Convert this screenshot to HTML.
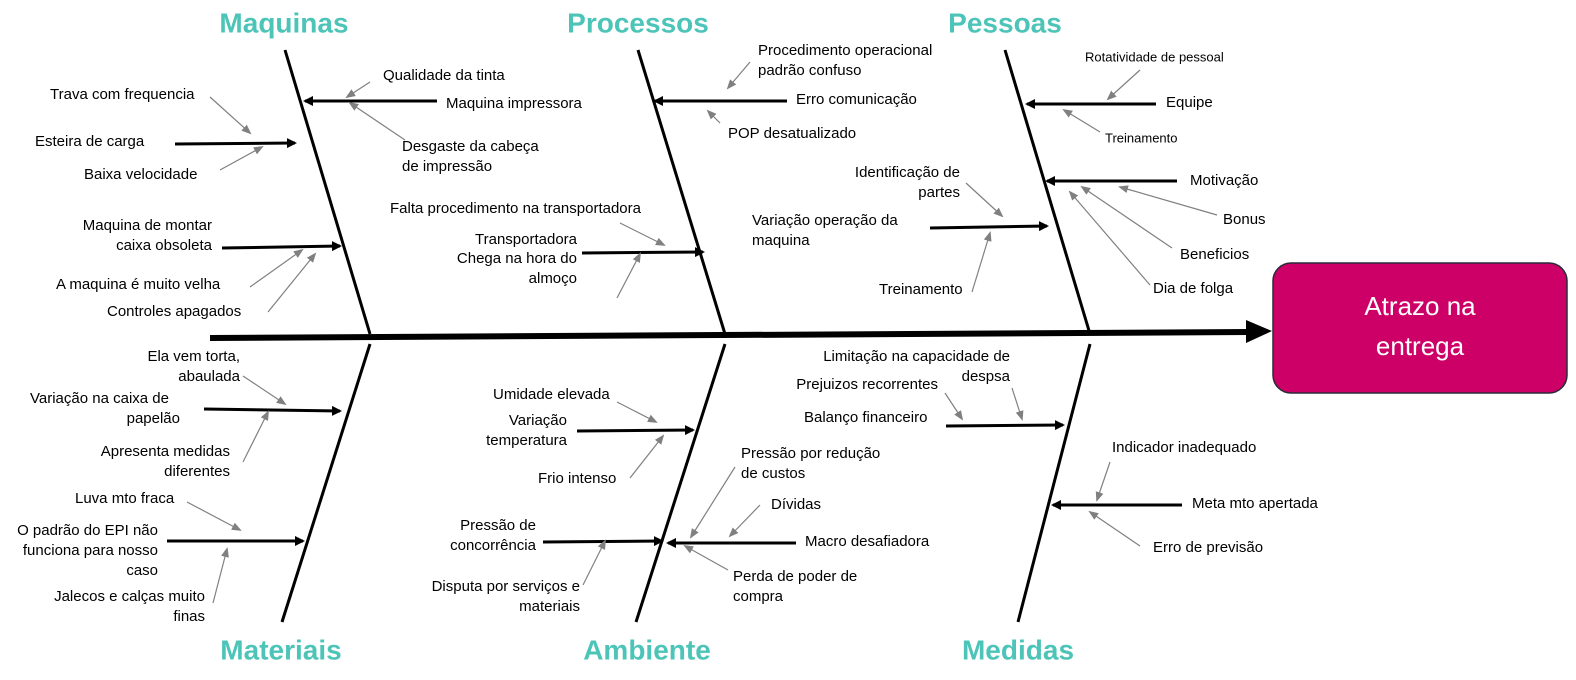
<!DOCTYPE html>
<html><head><meta charset="utf-8">
<style>
html,body{margin:0;padding:0;background:#fff;}
svg{display:block;}
text{font-family:"Liberation Sans",Arial,sans-serif;font-size:15px;fill:#000;dominant-baseline:middle;}
.t{font-size:28px;font-weight:bold;fill:#4DC4B8;text-anchor:middle;}
.s{font-size:13px;}
.r{text-anchor:end;}
.m{text-anchor:middle;}
.b{stroke:#000;stroke-width:3;marker-end:url(#ab);}
.g{stroke:#808080;stroke-width:1.2;marker-end:url(#ag);}
.bone{stroke:#000;stroke-width:3;}
</style></head><body>
<svg width="1576" height="680" viewBox="0 0 1576 680" xmlns="http://www.w3.org/2000/svg">
<defs>
<marker id="ab" markerWidth="10" markerHeight="10" refX="8" refY="5" orient="auto" markerUnits="userSpaceOnUse"><path d="M0,0 L10,5 L0,10 z" fill="#000"/></marker>
<marker id="ag" markerWidth="10" markerHeight="10" refX="8" refY="5" orient="auto" markerUnits="userSpaceOnUse"><path d="M0,1 L10,5 L0,9 z" fill="#808080"/></marker>
</defs>

<!-- spine -->
<line x1="210" y1="338" x2="1250" y2="332" stroke="#000" stroke-width="6"/>
<path d="M1246,320 L1272,331 L1246,343 z" fill="#000"/>
<rect x="1273" y="263" width="294" height="130" rx="18" fill="#CC0066" stroke="#2a2a3a" stroke-width="1.5"/>
<text x="1420" y="308" class="m" style="font-size:26px;fill:#fff">Atrazo na</text>
<text x="1420" y="348" class="m" style="font-size:26px;fill:#fff">entrega</text>

<!-- bones -->
<line class="bone" x1="285" y1="50" x2="370" y2="334"/>
<line class="bone" x1="638" y1="50" x2="725" y2="334"/>
<line class="bone" x1="1005" y1="50" x2="1090" y2="334"/>
<line class="bone" x1="370" y1="344" x2="282" y2="622"/>
<line class="bone" x1="725" y1="344" x2="636" y2="622"/>
<line class="bone" x1="1090" y1="344" x2="1018" y2="622"/>

<text class="t" x="284" y="25">Maquinas</text>
<text class="t" x="638" y="25">Processos</text>
<text class="t" x="1005" y="25">Pessoas</text>
<text class="t" x="281" y="652">Materiais</text>
<text class="t" x="647" y="652">Ambiente</text>
<text class="t" x="1018" y="652">Medidas</text>

<!-- Maquinas -->
<text x="383" y="76">Qualidade da tinta</text>
<line class="g" x1="370" y1="82" x2="347" y2="97"/>
<line class="b" x1="437" y1="101" x2="305" y2="101"/>
<text x="446" y="104">Maquina impressora</text>
<text x="402" y="147">Desgaste da cabeça</text>
<text x="402" y="167">de impressão</text>
<line class="g" x1="405" y1="140" x2="350" y2="103"/>
<text x="50" y="95">Trava com frequencia</text>
<line class="g" x1="210" y1="97" x2="250" y2="133"/>
<text x="35" y="142">Esteira de carga</text>
<line class="b" x1="175" y1="144" x2="295" y2="143"/>
<text x="84" y="175">Baixa velocidade</text>
<line class="g" x1="220" y1="170" x2="262" y2="147"/>
<text x="212" y="226" class="r">Maquina de montar</text>
<text x="212" y="246" class="r">caixa obsoleta</text>
<line class="b" x1="222" y1="248" x2="340" y2="246"/>
<text x="56" y="285">A maquina é muito velha</text>
<line class="g" x1="250" y1="287" x2="302" y2="250"/>
<text x="107" y="312">Controles apagados</text>
<line class="g" x1="268" y1="312" x2="315" y2="254"/>

<!-- Processos -->
<text x="758" y="51">Procedimento operacional</text>
<text x="758" y="71">padrão confuso</text>
<line class="g" x1="750" y1="62" x2="728" y2="88"/>
<line class="b" x1="787" y1="101" x2="655" y2="101"/>
<text x="796" y="100">Erro comunicação</text>
<text x="728" y="134">POP desatualizado</text>
<line class="g" x1="720" y1="123" x2="708" y2="111"/>
<text x="390" y="209">Falta procedimento na transportadora</text>
<line class="g" x1="620" y1="223" x2="664" y2="245"/>
<text x="577" y="240" class="r">Transportadora</text>
<text x="577" y="259" class="r">Chega na hora do</text>
<text x="577" y="279" class="r">almoço</text>
<line class="b" x1="582" y1="253" x2="703" y2="252"/>
<line class="g" x1="617" y1="298" x2="640" y2="254"/>

<!-- Pessoas -->
<text x="1085" y="58" class="s">Rotatividade de pessoal</text>
<line class="g" x1="1140" y1="70" x2="1108" y2="99"/>
<line class="b" x1="1156" y1="104" x2="1027" y2="104"/>
<text x="1166" y="103">Equipe</text>
<text x="1105" y="139" class="s">Treinamento</text>
<line class="g" x1="1100" y1="132" x2="1064" y2="110"/>
<text x="960" y="173" class="r">Identificação de</text>
<text x="960" y="193" class="r">partes</text>
<line class="g" x1="966" y1="183" x2="1002" y2="216"/>
<text x="752" y="221">Variação operação da</text>
<text x="752" y="241">maquina</text>
<line class="b" x1="930" y1="228" x2="1047" y2="226"/>
<text x="879" y="290">Treinamento</text>
<line class="g" x1="972" y1="292" x2="990" y2="233"/>
<line class="b" x1="1177" y1="181" x2="1047" y2="181"/>
<text x="1190" y="181">Motivação</text>
<text x="1223" y="220">Bonus</text>
<line class="g" x1="1217" y1="215" x2="1120" y2="187"/>
<text x="1180" y="255">Beneficios</text>
<line class="g" x1="1172" y1="248" x2="1082" y2="187"/>
<text x="1153" y="289">Dia de folga</text>
<line class="g" x1="1150" y1="285" x2="1070" y2="192"/>

<!-- Materiais -->
<text x="240" y="357" class="r">Ela vem torta,</text>
<text x="240" y="377" class="r">abaulada</text>
<line class="g" x1="243" y1="376" x2="285" y2="404"/>
<text x="30" y="399">Variação na caixa de</text>
<text x="180" y="419" class="r">papelão</text>
<line class="b" x1="204" y1="409" x2="340" y2="411"/>
<text x="230" y="452" class="r">Apresenta medidas</text>
<text x="230" y="472" class="r">diferentes</text>
<line class="g" x1="243" y1="462" x2="268" y2="412"/>
<text x="75" y="499">Luva mto fraca</text>
<line class="g" x1="187" y1="502" x2="240" y2="530"/>
<text x="158" y="531" class="r">O padrão do EPI não</text>
<text x="158" y="551" class="r">funciona para nosso</text>
<text x="158" y="571" class="r">caso</text>
<line class="b" x1="167" y1="541" x2="303" y2="541"/>
<text x="205" y="597" class="r">Jalecos e calças muito</text>
<text x="205" y="617" class="r">finas</text>
<line class="g" x1="213" y1="603" x2="227" y2="549"/>

<!-- Ambiente -->
<text x="493" y="395">Umidade elevada</text>
<line class="g" x1="617" y1="402" x2="656" y2="422"/>
<text x="567" y="421" class="r">Variação</text>
<text x="567" y="441" class="r">temperatura</text>
<line class="b" x1="577" y1="431" x2="693" y2="430"/>
<text x="538" y="479">Frio intenso</text>
<line class="g" x1="630" y1="478" x2="663" y2="436"/>
<text x="741" y="454">Pressão por redução</text>
<text x="741" y="474">de custos</text>
<line class="g" x1="735" y1="467" x2="691" y2="537"/>
<text x="771" y="505">Dívidas</text>
<line class="g" x1="760" y1="505" x2="730" y2="536"/>
<line class="b" x1="796" y1="543" x2="668" y2="543"/>
<text x="805" y="542">Macro desafiadora</text>
<text x="733" y="577">Perda de poder de</text>
<text x="733" y="597">compra</text>
<line class="g" x1="728" y1="570" x2="685" y2="546"/>
<text x="536" y="526" class="r">Pressão de</text>
<text x="536" y="546" class="r">concorrência</text>
<line class="b" x1="543" y1="542" x2="662" y2="541"/>
<text x="580" y="587" class="r">Disputa por serviços e</text>
<text x="580" y="607" class="r">materiais</text>
<line class="g" x1="583" y1="585" x2="605" y2="541"/>

<!-- Medidas -->
<text x="1010" y="357" class="r">Limitação na capacidade de</text>
<text x="1010" y="377" class="r">despsa</text>
<line class="g" x1="1012" y1="388" x2="1022" y2="419"/>
<text x="938" y="385" class="r">Prejuizos recorrentes</text>
<line class="g" x1="945" y1="393" x2="962" y2="419"/>
<text x="804" y="418">Balanço financeiro</text>
<line class="b" x1="946" y1="426" x2="1063" y2="425"/>
<text x="1112" y="448">Indicador inadequado</text>
<line class="g" x1="1110" y1="462" x2="1097" y2="500"/>
<line class="b" x1="1182" y1="505" x2="1053" y2="505"/>
<text x="1192" y="504">Meta mto apertada</text>
<text x="1153" y="548">Erro de previsão</text>
<line class="g" x1="1140" y1="546" x2="1090" y2="512"/>
</svg>
</body></html>
